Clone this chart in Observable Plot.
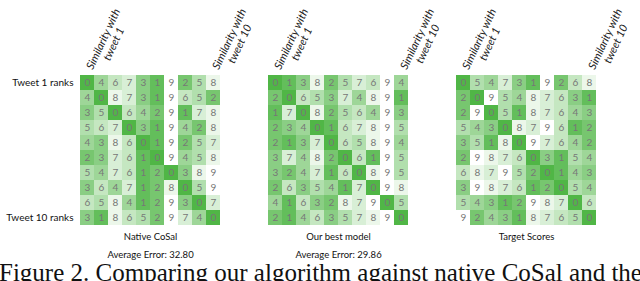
<!DOCTYPE html>
<html>
<head>
<meta charset="utf-8">
<script src="https://cdn.jsdelivr.net/npm/d3@7"></script>
<script src="https://cdn.jsdelivr.net/npm/@observablehq/plot@0.6"></script>
<style>
  html, body { margin: 0; padding: 0; background: #fff; overflow: hidden; }
  #caption { font-family: "Liberation Serif", "Times New Roman", serif; font-size: 25px; line-height: 25px; white-space: nowrap; margin-left: -1px; color: #111; }
</style>
</head>
<body>
<div id="chart"></div>
<div id="caption">Figure 2. Comparing our algorithm against native CoSal and the</div>
<script>
const panels = ["Native CoSal", "Our best model", "Target Scores"];
const errors = ["Average Error: 32.80", "Average Error: 29.86", ""];
const topLabels = ["Similarity with\ntweet 1", "Similarity with\ntweet 10"];
const rowLabels = ["Tweet 1 ranks", "Tweet 10 ranks"];

const nativeCosal = [
  [0,4,6,7,3,1,9,2,5,8],
  [4,0,8,7,3,1,9,6,5,2],
  [3,5,0,6,4,2,9,1,7,8],
  [5,6,7,0,3,1,9,4,2,8],
  [4,3,8,6,0,1,9,2,5,7],
  [2,3,7,6,1,0,9,4,5,8],
  [5,4,7,6,1,2,0,3,8,9],
  [3,6,4,7,1,2,8,0,5,9],
  [6,5,8,4,1,2,9,3,0,7],
  [3,1,8,6,5,2,9,7,4,0]
];
const bestModel = [
  [0,1,3,8,2,5,7,6,9,4],
  [2,0,6,5,3,7,4,8,9,1],
  [1,7,0,8,2,5,6,4,9,3],
  [2,3,4,0,1,6,7,8,9,5],
  [2,1,3,7,0,6,5,8,9,4],
  [3,7,4,8,2,0,6,1,9,5],
  [3,2,4,7,1,6,0,8,9,5],
  [2,6,3,5,4,1,7,0,9,8],
  [4,1,6,3,2,8,7,9,0,5],
  [2,1,4,6,3,5,7,8,9,0]
];
const targetScores = [
  [0,5,4,7,3,1,9,2,6,8],
  [2,0,9,5,4,8,7,6,3,1],
  [2,9,0,5,1,8,7,6,4,3],
  [5,4,3,0,8,7,9,6,1,2],
  [3,5,1,8,0,9,7,6,4,2],
  [2,9,8,7,6,0,3,1,5,4],
  [6,8,7,9,5,2,0,1,4,3],
  [3,9,8,7,6,1,2,0,5,4],
  [5,4,3,1,2,9,8,7,0,6],
  [9,2,4,3,1,8,7,6,5,0]
];

const matrices = [nativeCosal, bestModel, targetScores];
const cells = [];
matrices.forEach((m, g) => m.forEach((row, r) => row.forEach((v, c) => {
  cells.push({panel: panels[g], row: r, col: c, value: v});
})));

const panelInfo = panels.map((p, i) => ({panel: p, error: errors[i]}));
const tops = panels.flatMap(p => [{panel: p, col: 0, label: topLabels[0]}, {panel: p, col: 9, label: topLabels[1]}]);
const rows = [{panel: panels[0], row: 0, label: rowLabels[0]}, {panel: panels[0], row: 9, label: rowLabels[1]}];

const sans = "Lato, 'Open Sans', sans-serif";

const chart = Plot.plot({
  width: 640,
  height: 260,
  marginTop: 73,
  marginBottom: 34,
  marginLeft: 79,
  marginRight: 44,
  style: {fontFamily: sans, background: "white"},
  fx: {domain: panels, paddingInner: 0.257, paddingOuter: 0, axis: null},
  x: {domain: d3.range(10), padding: 0, axis: null},
  y: {domain: d3.range(10), padding: 0, axis: null},
  color: {type: "linear", domain: [0, 9], range: ["#50b646", "#ffffff"], interpolate: "rgb"},
  marks: [
    Plot.cell(cells, {fx: "panel", x: "col", y: "row", fill: "value"}),
    Plot.text(cells, {fx: "panel", x: "col", y: "row", text: d => String(d.value), fill: "#777", fontSize: 10}),
    Plot.text(tops, {fx: "panel", x: "col", text: "label", frameAnchor: "top", rotate: -65, textAnchor: "middle", lineAnchor: "middle", dx: 21, dy: -32, fontSize: 11, fill: "#222", fontStyle: "italic", lineHeight: 1.05}),
    Plot.text(rows, {fx: "panel", y: "row", text: "label", frameAnchor: "left", textAnchor: "end", dx: -7, fontSize: 10, fill: "#111"}),
    Plot.text(panelInfo, {fx: "panel", text: "panel", frameAnchor: "bottom", dy: 13, fontSize: 9.5, fill: "#111"}),
    Plot.text(panelInfo, {fx: "panel", text: "error", frameAnchor: "bottom", dy: 31, fontSize: 9.5, fill: "#111"})
  ]
});
document.getElementById("chart").appendChild(chart);
</script>
</body>
</html>
